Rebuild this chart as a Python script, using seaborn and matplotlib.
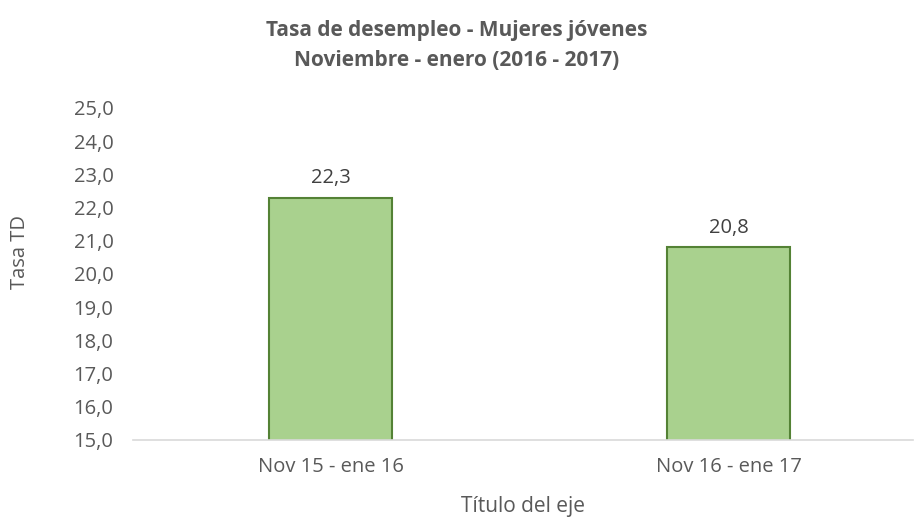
import pandas as pd
import matplotlib
matplotlib.use("Agg")
import matplotlib.pyplot as plt
import seaborn as sns

# ======================================================
# DATOS
# ======================================================

periodos = ["Nov 15 - ene 16", "Nov 16 - ene 17"]
tasa_td = [22.3, 20.8]

titulo = "Tasa de desempleo - Mujeres jóvenes\nNoviembre - enero (2016 - 2017)"
y_ticks = [15, 16, 17, 18, 19, 20, 21, 22, 23, 24, 25]

df = pd.DataFrame({"Periodo": periodos, "Tasa": tasa_td})

# ======================================================
# ESTILO
# ======================================================

sns.set_theme(style="white")
plt.rcParams["font.family"] = ["Open Sans", "DejaVu Sans"]
gris = "#595959"

fig = plt.figure(figsize=(9.14, 5.23), dpi=100)
ax = fig.add_axes([0.1455, 0.1587, 0.853, 0.6348])

sns.barplot(data=df, x="Periodo", y="Tasa", ax=ax, width=0.31,
            color="#A9D18E", edgecolor="#548235", linewidth=1.5,
            saturation=1)

ax.set_ylim(15, 25)
ax.set_xlim(-0.497, 1.462)
ax.set_yticks(y_ticks)
ax.set_yticklabels([f"{v:.1f}".replace(".", ",") for v in y_ticks])

ax.bar_label(ax.containers[0], fmt=lambda v: f"{v:.1f}".replace(".", ","),
             padding=7, fontsize=14.5, color="#404040")

for s in ["top", "right", "left"]:
    ax.spines[s].set_visible(False)
ax.spines["bottom"].set_color("#D9D9D9")
ax.spines["bottom"].set_linewidth(1.2)

ax.tick_params(axis="both", length=0, labelsize=14.5, labelcolor=gris)
ax.tick_params(axis="x", pad=12)
ax.tick_params(axis="y", pad=14)

ax.set_xlabel("Título del eje", fontsize=15, color=gris, labelpad=14)
ax.set_ylabel("Tasa TD", fontsize=14.5, color=gris)
ax.yaxis.set_label_coords(-0.132, 0.566)

fig.text(0.5, 0.962, titulo, ha="center", va="top", fontsize=15,
         fontweight="bold", color=gris, linespacing=1.55)

plt.savefig("out.png", dpi=100)
plt.close()
